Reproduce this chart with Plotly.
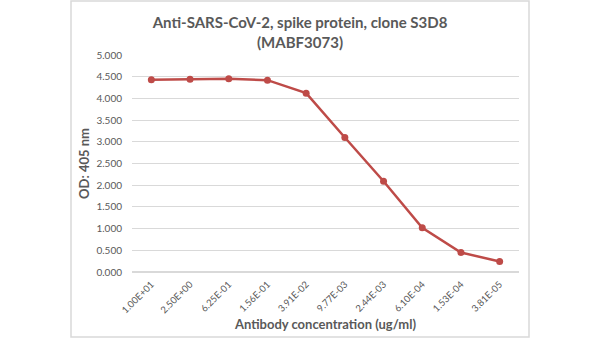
import plotly.graph_objects as go

categories = ["1.00E+01", "2.50E+00", "6.25E-01", "1.56E-01", "3.91E-02",
              "9.77E-03", "2.44E-03", "6.10E-04", "1.53E-04", "3.81E-05"]
od_values = [4.43, 4.44, 4.45, 4.42, 4.12, 3.10, 2.09, 1.02, 0.45, 0.24]
y_ticks = [0, 0.5, 1, 1.5, 2, 2.5, 3, 3.5, 4, 4.5, 5]

FONT = "Lato"
GRAY = "#595959"

fig = go.Figure()
fig.add_trace(go.Scatter(
    x=categories, y=od_values, mode="lines+markers",
    line=dict(color="#be4b48", width=2.5),
    marker=dict(color="#be4b48", size=7),
    showlegend=False,
))

L, R, T, B = 132, 81, 55, 66
W, H = 600, 338
pw, ph = W - L - R, H - T - B

fig.update_layout(
    width=W, height=H,
    margin=dict(l=L, r=R, t=T, b=B),
    paper_bgcolor="white", plot_bgcolor="white",
    font=dict(family=FONT, color=GRAY),
    title=dict(
        text="<b>Anti-SARS-CoV-2, spike protein, clone S3D8<br>(MABF3073)</b>",
        x=0.5, xanchor="center", y=1 - 28 / H, yanchor="middle",
        font=dict(family=FONT, size=15, color=GRAY),
    ),
    xaxis=dict(
        type="category", tickangle=-45, tickfont=dict(size=9.5, color=GRAY),
        showgrid=False, showline=False, ticks="", ticklabelstandoff=4,
        automargin=False,
        title=dict(text="<b>Antibody concentration (ug/ml)</b>",
                   font=dict(size=13, color=GRAY), standoff=5),
        range=[-0.5, 9.5],
    ),
    yaxis=dict(
        range=[0, 5], tickvals=y_ticks,
        ticktext=[f"{v:.3f}" for v in y_ticks],
        tickfont=dict(size=10, color=GRAY),
        gridcolor="#d9d9d9", gridwidth=1, zeroline=True, zerolinecolor="#d9d9d9",
        showline=False, ticks="", ticklabelstandoff=9, automargin=False,
        title=dict(text="<b>OD: 405 nm</b>", font=dict(size=13, color=GRAY), standoff=3),
    ),
    shapes=[dict(
        type="rect", xref="paper", yref="paper",
        x0=(71 - L) / pw, x1=(529 - L) / pw,
        y0=(H - B - 337) / ph, y1=(H - B - 1) / ph,
        line=dict(color="#d9d9d9", width=1.5), layer="below",
    )],
)

fig.write_html("out.html")
